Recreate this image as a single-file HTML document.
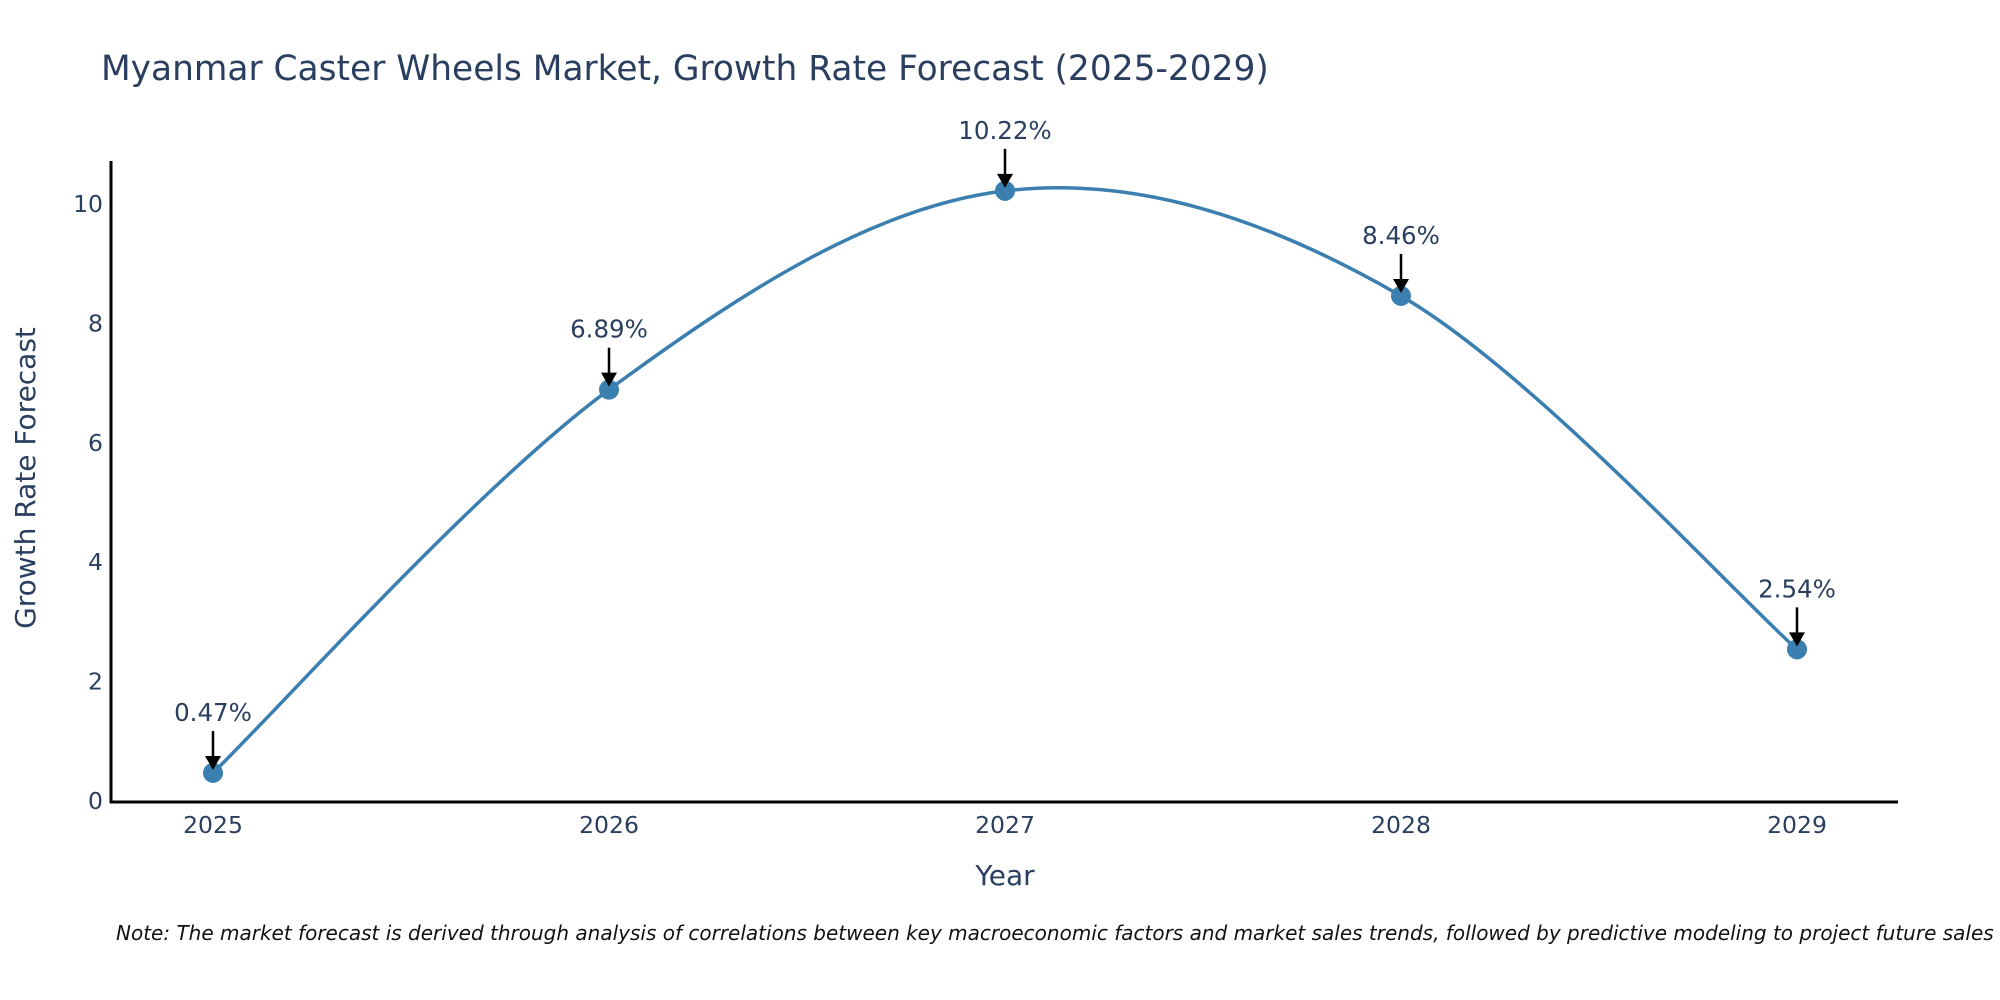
<!DOCTYPE html>
<html><head><meta charset="utf-8"><style>
html,body{margin:0;padding:0;background:#fff;}
svg{display:block;font-family:"DejaVu Sans","Liberation Sans",sans-serif;}
</style></head><body>
<svg id="chart" width="2000" height="1000" viewBox="0 0 2000 1000">
<text x="101" y="80" font-size="34.4" fill="#2a3f5f">Myanmar Caster Wheels Market, Growth Rate Forecast (2025-2029)</text>
<g id="yticks"></g>
<g id="xticks"></g>
<path id="line" fill="none" stroke="#3a7fb0" stroke-width="3.5"/>
<g id="points"></g>
<g id="annots"></g>
<line x1="111" y1="161" x2="111" y2="803" stroke="#000" stroke-width="3"/>
<line x1="110" y1="802" x2="1898" y2="802" stroke="#000" stroke-width="3"/>
<text x="1005" y="885" font-size="28" fill="#2a3f5f" text-anchor="middle">Year</text>
<text transform="translate(35,478) rotate(-90)" font-size="28" fill="#2a3f5f" text-anchor="middle">Growth Rate Forecast</text>
<text x="116" y="940" font-size="20" font-style="italic" fill="#111">Note: The market forecast is derived through analysis of correlations between key macroeconomic factors and market sales trends, followed by predictive modeling to project future sales</text>
</svg>
<script>
const years = [2025, 2026, 2027, 2028, 2029];
const values = [0.47, 6.89, 10.22, 8.46, 2.54];
const labels = ["0.47%", "6.89%", "10.22%", "8.46%", "2.54%"];
const yTicks = [0, 2, 4, 6, 8, 10];

const NS = "http://www.w3.org/2000/svg";
const xS = y => 213 + (y - 2025) * 396;
const yS = v => 801 - v * 59.7;
function mk(tag, attrs, parent, text) {
  const e = document.createElementNS(NS, tag);
  for (const k in attrs) e.setAttribute(k, attrs[k]);
  if (text !== undefined) e.textContent = text;
  parent.appendChild(e);
  return e;
}
const yt = document.getElementById('yticks');
yTicks.forEach(t => {
  const e = mk('text', {x: 103, y: yS(t) + 8, 'font-size': 23.5, fill: '#2a3f5f', 'text-anchor': 'end'}, yt, String(t));
  
  
});
const xt = document.getElementById('xticks');
years.forEach(y => {
  const e = mk('text', {x: xS(y), y: 833, 'font-size': 23.5, fill: '#2a3f5f', 'text-anchor': 'middle'}, xt, String(y));
  
  
});
const pts = years.map((y, i) => [xS(y), yS(values[i])]);
let d = `M${pts[0][0]},${pts[0][1]}`;
for (let i = 0; i < pts.length - 1; i++) {
  const p0 = pts[Math.max(0, i - 1)], p1 = pts[i], p2 = pts[i + 1], p3 = pts[Math.min(pts.length - 1, i + 2)];
  const c1 = [p1[0] + (p2[0] - p0[0]) / 6, p1[1] + (p2[1] - p0[1]) / 6];
  const c2 = [p2[0] - (p3[0] - p1[0]) / 6, p2[1] - (p3[1] - p1[1]) / 6];
  d += ` C${c1[0]},${c1[1]} ${c2[0]},${c2[1]} ${p2[0]},${p2[1]}`;
}
document.getElementById('line').setAttribute('d', d);
const pg = document.getElementById('points');
const ag = document.getElementById('annots');
pts.forEach((p, i) => {
  const c = mk('circle', {cx: p[0], cy: p[1], r: 10, fill: '#3a7fb0'}, pg);
  
  
  const l = mk('line', {x1: p[0], y1: p[1] - 42, x2: p[0], y2: p[1] - 14, stroke: '#000', 'stroke-width': 2.5}, ag);
  
  
  const h = mk('polygon', {points: `${p[0]-8},${p[1]-17} ${p[0]+8},${p[1]-17} ${p[0]},${p[1]-3}`, fill: '#000'}, ag);
  
  
  const t = mk('text', {x: p[0], y: p[1] - 52, 'font-size': 24.5, fill: '#2a3f5f', 'text-anchor': 'middle'}, ag, labels[i]);
  
  
});
</script>
</body></html>
